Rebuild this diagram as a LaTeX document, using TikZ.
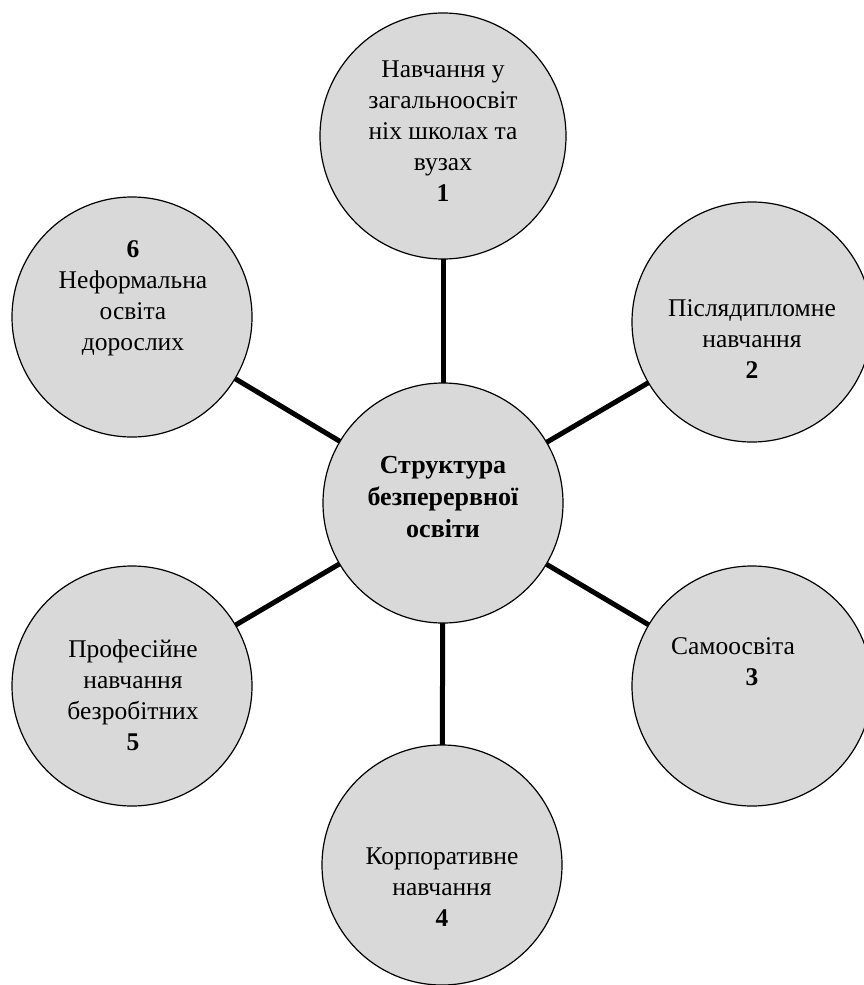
\documentclass[tikz,border=0pt]{standalone}
\usepackage{fontspec}
\setmainfont{Liberation Serif}
\usetikzlibrary{backgrounds}
\definecolor{circfill}{RGB}{217,217,217}
\begin{document}
\begin{tikzpicture}[x=1pt,y=-1pt,
  bubble/.style={circle,draw=black,line width=1.2pt,fill=circfill,minimum size=240pt,inner sep=0pt},
  bubbletext/.style={align=center,inner sep=0pt,font=\fontsize{25.5}{31}\selectfont},
  spoke/.style={line width=5pt}]
\useasboundingbox (0,0) rectangle (863,985);
\node[bubble] (c) at (443,503) {};
\node[bubble,minimum size=246pt] (n1) at (443,136) {};
\node[bubble] (n2) at (752,322) {};
\node[bubble] (n3) at (752,686) {};
\node[bubble] (n4) at (442,865) {};
\node[bubble] (n5) at (132,686) {};
\node[bubble] (n6) at (132,317) {};
\begin{scope}[on background layer]
\foreach \n in {n1,n2,n3,n4,n5,n6}
  \draw[spoke] (c.center) -- (\n.center);
\end{scope}
\node[bubbletext,font=\fontsize{26}{32}\selectfont\bfseries] (tc) at (443,497) {Структура\\безперервної\\освіти};
\node[bubbletext] (t1) at (443,131) {Навчання у\\загальноосвіт\\ніх школах та\\вузах\\\textbf{1}};
\node[bubbletext] (t2) at (752,339) {Післядипломне\\навчання\\\textbf{2}};
\node[bubbletext] (t3) at (733,662) {Самоосвіта\\\hspace*{38pt}\textbf{3}};
\node[bubbletext] (t4) at (442,887) {Корпоративне\\навчання\\\textbf{4}};
\node[bubbletext] (t5) at (133,695) {Професійне\\навчання\\безробітних\\\textbf{5}};
\node[bubbletext] (t6) at (133,298) {\textbf{6}\\Неформальна\\освіта\\дорослих};
\end{tikzpicture}
\end{document}
